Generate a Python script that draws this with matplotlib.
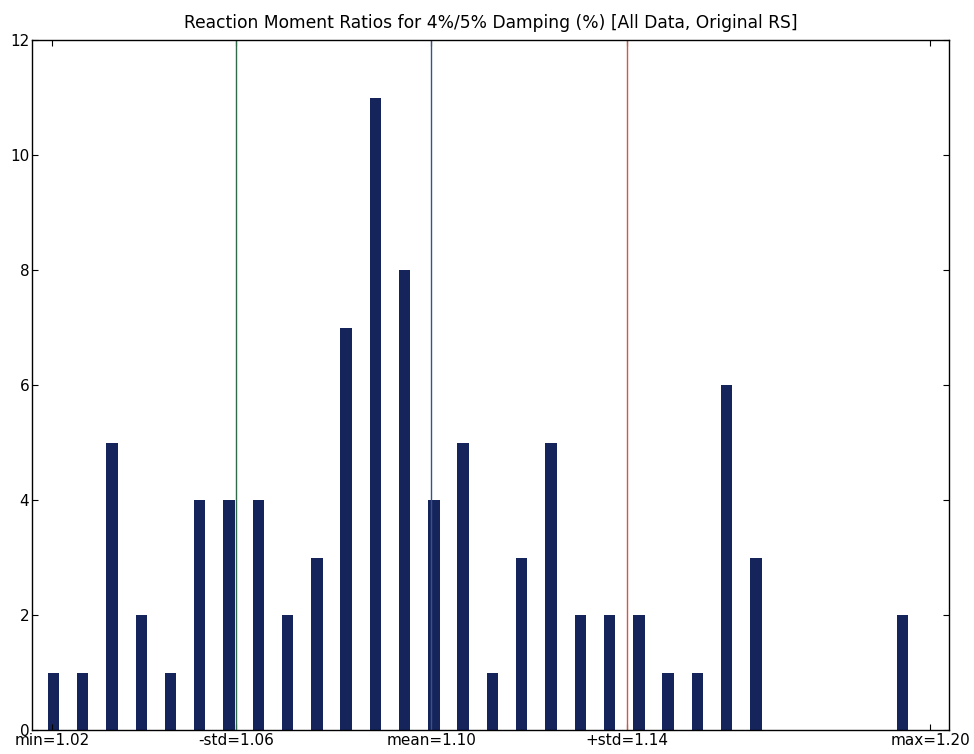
import matplotlib
matplotlib.use("Agg")
import matplotlib.pyplot as plt
import numpy as np

title = "Reaction Moment Ratios for 4%/5% Damping (%) [All Data, Original RS]"
counts = [1, 1, 5, 2, 1, 4, 4, 4, 2, 3, 7, 11, 8, 4, 5, 1, 3, 5, 2, 2, 2, 1, 1, 6, 3, 0, 0, 0, 0, 2]
vmin = 1.0205
vmax = 1.2005
vmean = 1.0983
vstd = 0.0401

n = len(counts)
bw = (vmax - vmin) / n
centers = vmin + bw * np.arange(n) + 0.0003

fig = plt.figure(figsize=(9.74, 7.54), dpi=100)
ax = fig.add_axes([32/974, 1 - 730/754, (949-32)/974, (730-40)/754])
ax.bar(centers, counts, width=bw * 0.39, color="#15245a", align="center", linewidth=0)
ax.axvline(vmean - vstd, color="#2f6a4a", linewidth=1)
ax.axvline(vmean, color="#34548f", linewidth=1)
ax.axvline(vmean + vstd, color="#d8553e", linewidth=1)

ax.set_xlim(vmin - 20/4883, vmax + 19/4883)
ax.set_ylim(0, 12)
ax.set_yticks(range(0, 13, 2))
ticks = [vmin, vmean - vstd, vmean, vmean + vstd, vmax]
labels = ["min=%.2f" % vmin, "-std=%.2f" % (vmean - vstd), "mean=%.2f" % vmean,
          "+std=%.2f" % (vmean + vstd), "max=%.2f" % vmax]
ax.set_xticks(ticks)
ax.set_xticklabels(labels)
ax.tick_params(direction="in", length=4, top=True, right=True, labelsize=11, pad=2, width=0.8)
for s in ax.spines.values():
    s.set_linewidth(1.0)
ax.set_title(title, fontsize=12.3, pad=9)
fig.savefig("out.png", dpi=100)
